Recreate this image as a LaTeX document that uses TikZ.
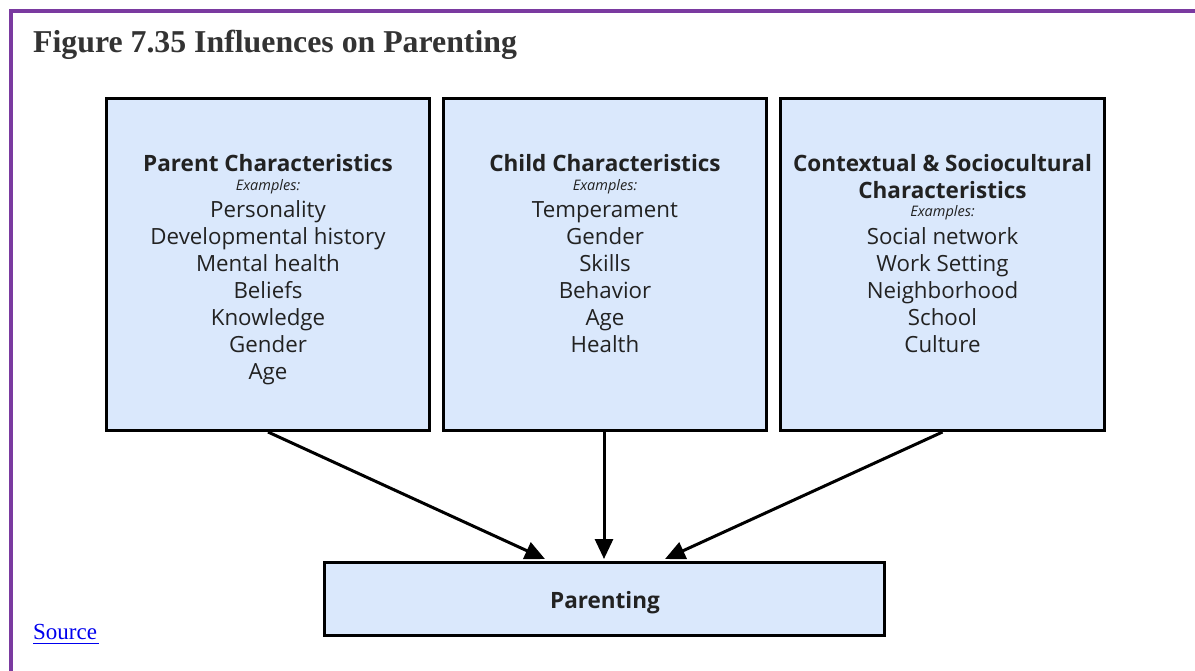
\documentclass[tikz,border=0pt]{standalone}
\usepackage{fontspec}
\usetikzlibrary{arrows.meta}
\newfontfamily\osans{Open Sans}
\newfontfamily\tnr{Liberation Serif}
\definecolor{boxfill}{HTML}{DAE8FC}
\definecolor{purp}{RGB}{122,58,160}
\definecolor{ink}{HTML}{222222}
\definecolor{linkblue}{RGB}{0,0,238}
\tikzset{
  box/.style={draw=black, line width=3pt, fill=boxfill, inner sep=0pt},
  title/.style={anchor=base, inner sep=0pt, text=ink, font=\osans\bfseries\fontsize{22.5}{26}\selectfont},
  exm/.style={anchor=base, inner sep=0pt, text=ink, font=\osans\itshape\fontsize{14.5}{17}\selectfont},
  item/.style={anchor=base, inner sep=0pt, text=ink, font=\osans\fontsize{22.3}{26}\selectfont},
  conn/.style={line width=3pt, -{Triangle[length=20pt,width=18pt]}},
}
\begin{document}
\begin{tikzpicture}[x=1pt,y=-1pt]
\useasboundingbox (0,0) rectangle (1195,671);
\fill[white] (0,0) rectangle (1195,671);
% purple frame
\fill[purp] (9,9) rectangle (1195,13);
\fill[purp] (9,9) rectangle (13,671);
% heading
\node[anchor=base west, inner sep=0pt, text=black!80, font=\tnr\bfseries\fontsize{31.8}{36}\selectfont] (head) at (33,53) {Figure 7.35 Influences on Parenting};
% source link
\node[anchor=base west, inner sep=0pt, text=linkblue, font=\tnr\fontsize{23}{27}\selectfont] (src) at (33,639) {Source};
\draw[linkblue, line width=1.5pt] (src.base west) ++(0,4.5) -- ++(65.5,0);
% boxes
\node[box, minimum width=323pt, minimum height=332pt] (b1) at (268,264.5) {};
\node[box, minimum width=323pt, minimum height=332pt] (b2) at (605,264.5) {};
\node[box, minimum width=324pt, minimum height=332pt] (b3) at (942.5,264.5) {};
\node[box, minimum width=560pt, minimum height=73pt] (par) at (604.5,599) {};
% box 1 text
\node[title] (t1) at (268,172) {Parent Characteristics};
\node[exm] (e1) at (268,190.5) {Examples:};
\foreach \t [count=\i] in {Personality,Developmental history,Mental health,Beliefs,Knowledge,Gender,Age}
  \node[item] (p\i) at (268,{217.5+27*(\i-1)}) {\t};
% box 2 text
\node[title] (t2) at (605,172) {Child Characteristics};
\node[exm] (e2) at (605,190.5) {Examples:};
\foreach \t [count=\i] in {Temperament,Gender,Skills,Behavior,Age,Health}
  \node[item] (c\i) at (605,{217.5+27*(\i-1)}) {\t};
% box 3 text
\node[title] (t3a) at (942.5,172) {Contextual \& Sociocultural};
\node[title] (t3b) at (942.5,199) {Characteristics};
\node[exm] (e3) at (942.5,217) {Examples:};
\foreach \t [count=\i] in {Social network,Work Setting,Neighborhood,School,Culture}
  \node[item] (s\i) at (942.5,{244.5+27*(\i-1)}) {\t};
% parenting text
\node[title] (pt) at (605,608) {Parenting};
% arrow targets
\coordinate (a1) at (545,559);
\coordinate (a2) at (604,559);
\coordinate (a3) at (665,559);
\draw[conn] (b1.south) -- (a1);
\draw[conn] (b2.south -| a2) -- (a2);
\draw[conn] (b3.south) -- (a3);
\end{tikzpicture}
\end{document}
